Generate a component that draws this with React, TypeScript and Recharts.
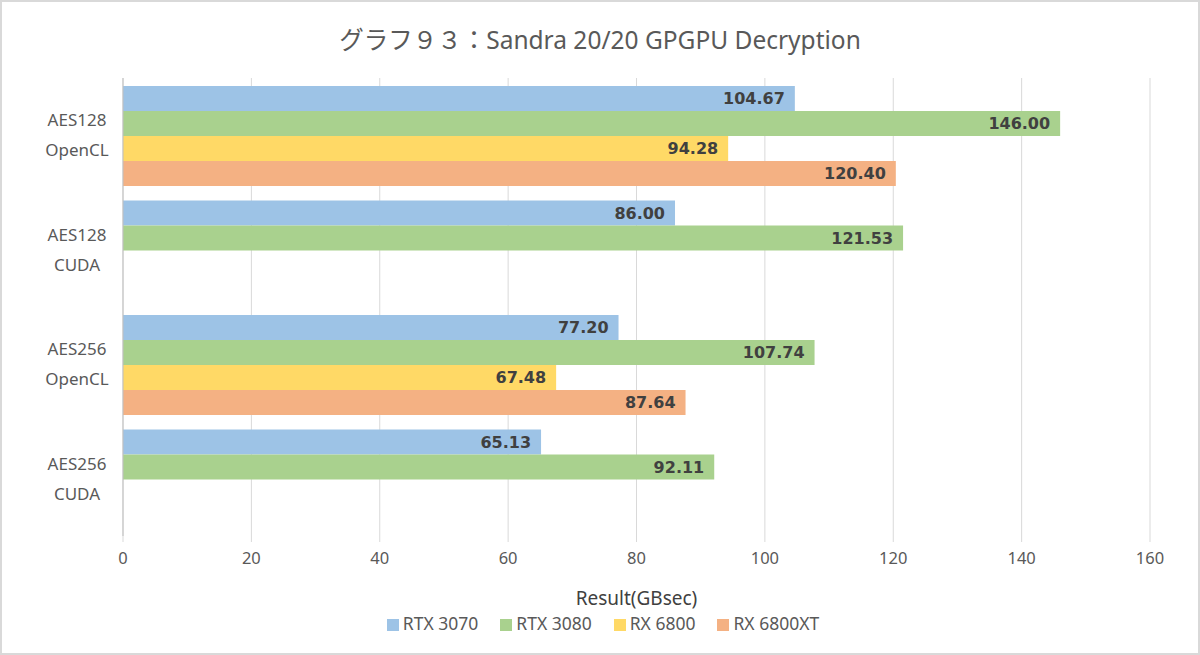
import { Bar, BarChart, CartesianGrid, LabelList, Legend, XAxis, YAxis } from "recharts";

const categories = ["AES128\nOpenCL", "AES128\nCUDA", "AES256\nOpenCL", "AES256\nCUDA"];
const rtx3070 = [104.67, 86.0, 77.2, 65.13];
const rtx3080 = [146.0, 121.53, 107.74, 92.11];
const rx6800 = [94.28, null, 67.48, null];
const rx6800xt = [120.4, null, 87.64, null];
const xTicks = [0, 20, 40, 60, 80, 100, 120, 140, 160];

const series = [
  { key: "rtx3070", name: "RTX 3070", color: "#9DC3E6" },
  { key: "rtx3080", name: "RTX 3080", color: "#A9D18E" },
  { key: "rx6800", name: "RX 6800", color: "#FFD966" },
  { key: "rx6800xt", name: "RX 6800XT", color: "#F4B183" },
];

const data = categories.map((name, i) => ({
  name,
  rtx3070: rtx3070[i],
  rtx3080: rtx3080[i],
  rx6800: rx6800[i],
  rx6800xt: rx6800xt[i],
}));

const font = '"Noto Sans", "Noto Sans CJK JP", sans-serif';

function CategoryTick({ x, y, payload }: any) {
  const lines = String(payload.value).split("\n");
  return (
    <text x={x - 38} y={y} textAnchor="middle" fill="#595959" fontSize={17} fontFamily={font}>
      <tspan x={x - 38} dy={-9}>{lines[0]}</tspan>
      <tspan x={x - 38} dy={30}>{lines[1]}</tspan>
    </text>
  );
}

const fmt = (v: any) => (v == null ? "" : Number(v).toFixed(2));

export default function App() {
  return (
    <div
      style={{
        position: "fixed",
        left: 0,
        top: 0,
        width: 1200,
        height: 655,
        background: "#fff",
        boxSizing: "border-box",
        border: "2px solid #d9d9d9",
        fontFamily: font,
      }}
    >
      <div
        style={{
          position: "absolute",
          top: 19,
          width: "100%",
          textAlign: "center",
          fontSize: 24.5,
          color: "#595959",
        }}
      >
        グラフ９３：Sandra 20/20 GPGPU Decryption
      </div>
      <div style={{ position: "absolute", left: -2, top: -2 }}>
        <BarChart
          width={1200}
          height={655}
          data={data}
          layout="vertical"
          margin={{ top: 78, right: 50, left: 0, bottom: 0 }}
          barCategoryGap={8}
          barGap={0}
        >
          <CartesianGrid horizontal={false} stroke="#d9d9d9" />
          <XAxis
            type="number"
            domain={[0, 160]}
            ticks={xTicks}
            axisLine={false}
            tickLine={{ stroke: "#d9d9d9" }}
            tickSize={6}
            tickMargin={10}
            height={75}
            tick={{ fill: "#595959", fontSize: 16.5, fontFamily: font }}
            label={{
              value: "Result(GBsec)",
              position: "insideBottom",
              offset: 6,
              fill: "#404040",
              fontSize: 19,
              fontFamily: font,
            }}
          />
          <YAxis
            type="category"
            dataKey="name"
            width={123}
            axisLine={{ stroke: "#bfbfbf" }}
            tickLine={false}
            tick={<CategoryTick />}
          />
          <Legend
            verticalAlign="bottom"
            iconType="square"
            iconSize={12}
            wrapperStyle={{
              height: 44,
              paddingTop: 0,
              left: 14,
              width: 1200,
              textAlign: "center",
              fontSize: 17.5,
              fontFamily: font,
            }}
            formatter={(value) => (
              <span style={{ color: "#595959", marginRight: 12 }}>{value}</span>
            )}
          />
          {series.map((s) => (
            <Bar key={s.key} dataKey={s.key} name={s.name} fill={s.color} isAnimationActive={false}>
              <LabelList
                dataKey={s.key}
                position="insideRight"
                offset={10}
                formatter={fmt}
                fill="#404040"
                fontSize={16}
                fontWeight="bold"
                fontFamily='"DejaVu Sans", sans-serif'
              />
            </Bar>
          ))}
        </BarChart>
      </div>
    </div>
  );
}
